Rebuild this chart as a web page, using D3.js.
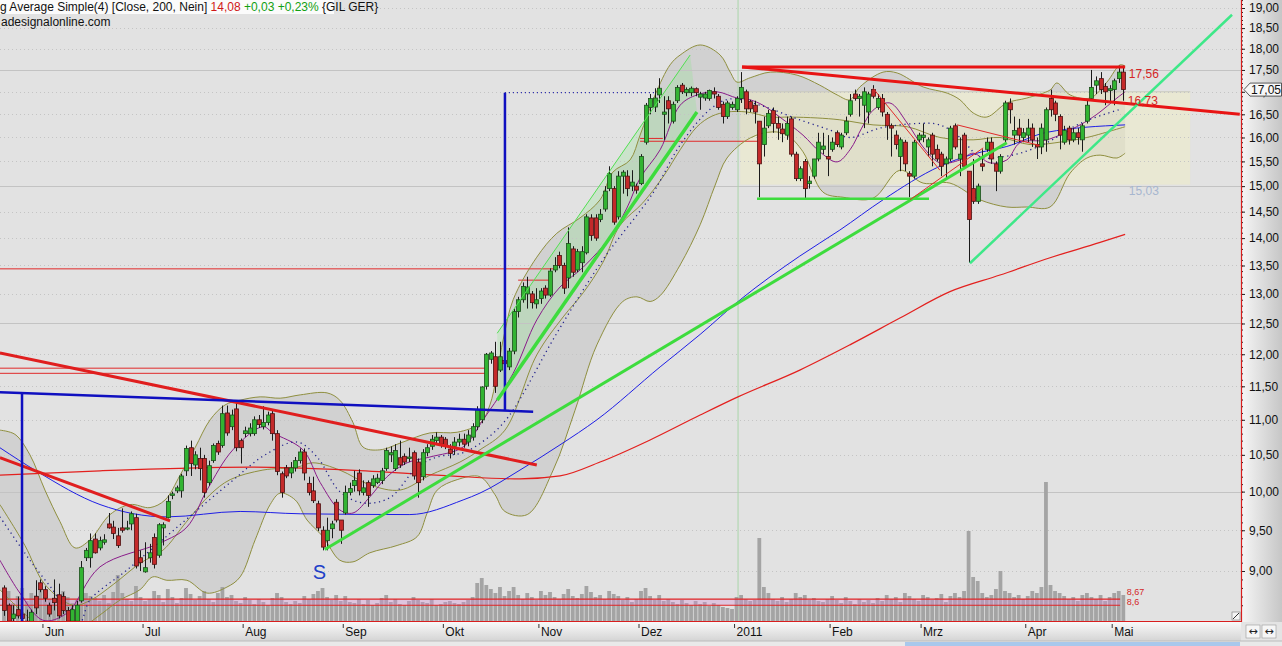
<!DOCTYPE html>
<html><head><meta charset="utf-8">
<script src="https://cdn.jsdelivr.net/npm/d3@7"></script>
<style>
html,body{margin:0;padding:0;background:#e2e2e2;overflow:hidden}
svg{display:block;font-family:"Liberation Sans",Arial,sans-serif}
</style></head><body>
<svg id="c" width="1282" height="646"></svg>
<script>
// ---------- DATA ----------
const monthLabels = ["Jun","Jul","Aug","Sep","Okt","Nov","Dez","2011","Feb","Mrz","Apr","Mai"];
const monthStart  = [9,31,53,75,97,118,140,161,182,202,225,244]; // trading-day index of first day of month

const open = [8.80,8.60,8.45,8.55,8.50,8.42,8.40,8.70,8.86,8.78, 8.60,8.68,8.72,8.70,8.54,8.42,8.42,8.65,9.16,9.16,
9.39,9.28,9.35,9.58,9.54,9.43,9.53,9.52,9.58,9.66, 9.16,8.99,9.16,9.41,9.19,9.53,9.66,9.95,10.01,10.01,
10.28,10.60,10.36,10.45,10.45,10.12,10.42,10.66,10.63,11.10, 10.90,11.16,10.70,10.80,10.80,10.80,11.00,10.90,10.96,11.09,
10.80,10.24,10.32,10.25,10.32,10.42,10.54,10.11,10.01,9.84, 9.50,9.37,9.52,9.86,9.63,9.72,9.99,10.08,10.25,9.99,
10.12,10.08,10.12,10.15,10.31,10.50,10.31,10.46,10.48,10.45, 10.53,10.40,10.20,10.53,10.62,10.70,10.75,10.72,10.58,10.62,
10.68,10.72,10.68,10.75,10.90,11.00,11.50,11.92,11.96,11.75, 11.90,11.80,12.05,12.70,12.90,13.00,13.00,12.83,12.92,13.10,
12.98,13.42,13.68,13.50,13.28,13.80,13.42,13.55,13.73,14.38, 14.38,14.35,14.55,14.95,14.95,14.40,15.20,15.20,15.00,15.00,
15.05,15.90,16.65,16.66,16.93,16.50,16.80,16.35,16.80,17.15, 16.98,16.98,17.07,16.88,16.86,16.85,17.00,16.90,16.72,16.45,
16.65,16.60,16.85,17.00,16.78,16.70,16.35,15.85,16.25,16.58, 16.30,16.18,16.05,16.40,15.65,15.15,15.50,15.05,15.20,15.55,
15.75,15.60,15.75,16.10,15.80,16.10,16.50,16.95,16.85,16.70, 16.55,17.05,16.65,16.85,16.50,16.25,16.05,15.60,15.90,15.25,
15.20,15.95,16.00,15.80,16.05,15.75,15.65,15.45,15.55,16.25, 15.55,16.05,15.30,14.95,14.70,15.45,15.75,15.90,15.45,15.30,
15.95,16.75,16.05,16.20,16.00,16.05,16.20,15.85,15.80,15.95, 16.85,16.75,16.45,15.90,16.20,15.95,16.10,15.95,16.35,16.85,
17.15,17.30,17.12,17.03,17.05,17.30,17.45];

const high = [8.83,8.62,8.60,8.70,8.62,8.55,8.55,8.89,8.90,8.82, 8.63,8.90,8.85,8.75,8.58,8.60,8.65,9.12,9.28,9.46,
9.46,9.42,9.45,9.72,9.62,9.53,9.78,9.62,9.74,9.71, 9.25,9.35,9.33,9.46,9.59,9.60,9.95,10.00,10.08,10.24,
10.63,10.70,10.55,10.60,10.50,10.42,10.66,10.70,11.21,11.21, 11.15,11.25,10.73,10.90,10.95,11.05,11.07,11.20,11.12,11.15,
10.85,10.27,10.36,10.40,10.47,10.59,10.59,10.20,10.20,9.88, 9.55,9.66,9.62,9.90,9.63,10.08,10.12,10.28,10.30,10.15,
10.15,10.22,10.24,10.32,10.60,10.62,10.65,10.70,10.52,10.60, 10.56,10.45,10.58,10.65,10.78,10.82,10.78,10.75,10.65,10.75,
10.80,10.80,10.85,10.95,11.20,11.50,12.02,12.05,12.20,12.20, 12.10,12.10,12.75,12.95,13.20,13.30,13.05,13.10,13.10,13.15,
13.45,13.65,13.75,13.55,14.20,13.85,13.80,13.85,14.45,14.45, 14.45,14.55,15.00,15.40,15.00,15.30,15.32,15.32,15.32,15.05,
15.65,16.75,16.95,17.08,17.31,16.90,16.90,16.78,17.15,17.20, 17.10,17.12,17.10,17.00,17.00,17.05,17.10,16.95,16.78,16.80,
16.78,16.90,17.45,17.05,16.82,16.80,16.35,16.45,16.60,16.65, 16.45,16.30,16.45,16.45,15.70,15.40,15.55,15.20,15.55,16.10,
16.10,16.05,16.00,16.15,16.10,16.45,16.95,17.05,16.95,17.10, 17.00,17.15,16.95,16.95,16.55,16.30,16.15,16.00,15.95,15.30,
15.95,16.10,16.30,16.00,16.10,15.85,15.70,15.60,16.25,16.30, 16.00,16.10,15.30,15.55,15.05,15.75,16.00,16.00,15.50,15.65,
16.80,16.85,16.45,16.40,16.20,16.40,16.30,16.00,16.30,16.65, 17.05,16.80,16.50,16.25,16.25,16.20,16.20,16.30,16.80,17.50,
17.35,17.45,17.20,17.15,17.30,17.60,17.60];

const low = [8.48,8.38,8.35,8.45,8.40,8.35,8.38,8.50,8.75,8.64, 8.47,8.54,8.45,8.50,8.38,8.38,8.40,8.63,9.12,9.04,
9.21,9.25,9.32,9.52,9.39,9.28,9.47,9.50,9.50,9.03, 9.00,8.98,9.10,9.03,9.16,9.31,9.65,9.90,9.98,9.92,
10.21,10.21,10.30,10.15,9.92,10.08,10.39,10.50,10.60,10.77, 10.85,10.55,10.38,10.75,10.76,10.77,10.88,10.86,10.92,10.70,
10.22,9.92,10.18,10.18,10.27,10.38,10.15,9.95,9.85,9.49, 9.25,9.25,9.40,9.60,9.33,9.70,9.95,10.00,9.95,9.95,
9.80,10.05,10.10,10.10,10.28,10.40,10.28,10.32,10.36,10.40, 10.16,9.92,10.15,10.48,10.57,10.65,10.60,10.58,10.45,10.50,
10.62,10.60,10.62,10.70,10.85,10.95,11.45,11.85,11.40,11.72, 11.70,11.75,12.00,12.60,12.85,12.75,12.75,12.75,12.83,12.92,
12.95,13.38,13.45,13.00,13.10,13.30,13.38,13.38,13.70,13.95, 13.95,14.30,14.50,14.90,14.25,14.35,14.85,14.80,14.90,14.85,
15.02,15.85,16.50,16.55,16.75,15.95,16.30,16.30,16.75,16.95, 16.90,16.90,16.90,16.60,16.80,16.80,16.85,16.60,16.30,16.40,
16.60,16.55,16.75,16.50,16.55,16.30,14.78,15.60,16.20,16.10, 15.95,15.90,15.95,15.60,15.10,15.10,14.75,14.95,15.15,15.50,
15.65,15.20,15.70,15.80,15.75,16.05,16.45,16.80,16.45,16.20, 16.30,16.85,16.60,16.45,15.95,15.60,15.75,15.30,15.30,14.78,
15.15,15.90,15.90,15.60,15.40,15.50,15.20,15.15,15.50,15.75, 15.20,15.35,13.55,14.65,14.65,15.30,15.70,15.45,14.90,15.25,
15.90,16.30,15.85,15.90,15.90,15.90,15.80,15.55,15.65,15.70, 16.45,16.35,15.75,15.85,15.85,15.90,15.85,15.70,16.30,16.80,
16.95,16.95,16.70,16.75,16.70,17.20,16.80];

const close = [8.54,8.42,8.50,8.48,8.45,8.40,8.52,8.57,8.78,8.68, 8.50,8.63,8.48,8.54,8.42,8.55,8.60,9.04,9.25,9.37,
9.22,9.37,9.38,9.53,9.46,9.31,9.50,9.53,9.71,9.06, 9.10,9.04,9.22,9.08,9.57,9.57,9.87,9.97,10.05,10.21,
10.59,10.38,10.50,10.31,9.99,10.35,10.63,10.54,11.09,10.81, 11.07,10.60,10.60,10.84,10.88,11.00,10.93,10.96,11.07,10.80,
10.27,9.99,10.21,10.32,10.42,10.54,10.25,9.99,9.88,9.53, 9.29,9.50,9.58,9.63,9.50,9.99,10.04,10.15,10.01,10.05,
9.95,10.17,10.18,10.28,10.56,10.53,10.56,10.36,10.40,10.47, 10.21,10.12,10.53,10.60,10.72,10.75,10.65,10.62,10.52,10.68,
10.72,10.65,10.78,10.90,11.15,11.49,12.00,12.02,11.50,11.96, 11.85,12.05,12.70,12.90,13.13,13.12,12.85,12.90,13.05,12.98,
13.40,13.50,13.50,13.10,13.90,13.38,13.75,13.75,14.40,14.05, 14.00,14.45,14.90,15.25,14.30,15.20,15.28,14.95,15.08,14.92,
15.60,16.70,16.85,16.86,17.08,16.55,16.62,16.72,17.10,17.00, 17.05,17.08,16.98,16.95,16.95,17.03,16.95,16.65,16.45,16.75,
16.72,16.85,17.10,16.62,16.62,16.55,15.45,16.20,16.52,16.30, 16.20,16.08,16.30,15.65,15.15,15.35,14.95,15.10,15.55,15.90,
15.82,15.55,15.90,15.85,16.05,16.35,16.80,16.85,16.90,17.00, 16.95,16.90,16.85,16.55,16.25,16.20,15.85,15.95,15.45,15.20,
15.90,16.05,16.05,15.95,15.65,15.55,15.40,15.55,16.20,15.80, 15.65,15.40,14.35,14.70,15.00,15.40,15.90,15.55,15.30,15.60,
16.75,16.60,16.15,16.05,16.10,16.20,15.95,15.80,16.20,16.60, 16.60,16.50,16.05,16.15,15.95,16.10,16.00,16.25,16.70,17.10,
17.25,17.05,17.00,17.07,17.25,17.45,17.05];

const volume = [22,30,18,25,33,20,28,26,35,24, 22,19,27,30,24,18,21,36,28,25,
23,20,26,18,29,46,28,22,20,35, 24,20,22,30,26,19,32,24,18,23,
33,27,21,25,30,22,19,28,34,24, 26,20,18,24,21,17,22,19,16,23,
28,24,19,17,20,18,25,22,27,30, 33,24,21,26,20,25,19,18,22,17,
21,16,18,23,26,19,22,17,16,20, 24,21,19,18,22,16,17,19,20,18,
17,19,21,24,38,43,36,32,28,34, 25,30,34,26,22,28,24,21,30,26,
29,24,22,27,32,25,23,27,35,29, 24,26,22,30,27,25,21,24,19,22,
30,33,25,21,26,20,22,19,17,21, 18,16,20,17,19,15,18,16,14,13,
12,24,26,22,20,21,83,34,28,22, 20,24,19,22,28,24,26,21,23,20,
19,22,25,21,18,24,20,17,22,19, 21,18,23,20,26,22,24,19,28,25,
22,20,26,24,21,23,27,19,25,28, 24,30,90,44,40,28,24,26,32,50,
30,28,24,26,22,25,30,28,34,139, 36,30,28,25,22,24,20,26,28,24,
22,26,20,24,28,30,26];

// price-axis tick labels
const yTicks = [9,9.5,10,10.5,11,11.5,12,12.5,13,13.5,14,14.5,15,15.5,16,16.5,17,17.5,18,18.5,19];
const yGridMajor = [10,12.5,15,17.5];

// indicator lines: [trading-day index, price]
const ma200 = [[-0.9,10.22],[21.1,10.28],[54.1,10.33],[76,10.29],[98,10.21],[113.4,10.17],[122.2,10.21],[131,10.40],[142,10.71],[153,11.07],[161.3,11.34],[174.9,11.75],[185.9,12.15],[196.9,12.59],[207.9,13.04],[218.9,13.33],[229.9,13.64],[240.9,13.92],[246.4,14.07]];
const ma50 = [[-0.9,10.60],[7.3,10.27],[21.1,9.83],[35.8,9.67],[51.9,9.74],[65.1,9.71],[89.2,9.70],[100.9,9.89],[104.6,9.98],[113.4,10.29],[122.2,10.64],[130.3,11.0],[144.2,11.80],[153,12.32],[161.8,12.90],[174.9,13.67],[183.7,14.15],[193.2,14.73],[205.7,15.40],[213,15.65],[220.4,15.81],[229.2,16.11],[246.4,16.27]];
const maDotted = [[-0.9,9.67],[5.7,9.13],[12.3,8.66],[14.9,8.42],[16.7,8.40],[18.9,8.66],[27,9.01],[38.7,9.57],[49.7,10.12],[57.4,10.50],[64.4,10.68],[68.8,10.47],[73.8,10.0],[78.9,9.85],[84.8,9.92],[90.8,10.33],[95.2,10.47],[100.9,10.53],[105.7,10.71],[110.8,11.04],[121.5,12.34],[131.6,13.60],[142.6,14.86],[148.6,15.84],[155.2,16.61],[159.6,16.84],[166.8,16.68],[174.3,16.40],[181.5,16.16],[185.9,16.0],[192.5,16.2],[200.7,16.30],[205.7,16.27],[210.1,16.0],[214.5,15.59],[218.9,15.59],[223.3,15.67],[229.2,15.89],[236.5,16.3],[245.3,16.61]];
const maShort = [[-0.9,9.13],[3.5,8.74],[8.6,8.43],[13.8,8.51],[21.1,9.05],[34.3,9.34],[40.2,9.54],[44.6,10.02],[50.3,10.57],[56.9,10.90],[59.1,10.81],[65.7,10.57],[69.5,10.12],[73.8,9.76],[76.7,9.72],[80.4,9.93],[84.2,10.20],[88.6,10.39],[93.6,10.47],[100.9,10.61],[105.3,11.0],[111.9,11.70],[117.1,12.56],[122.2,13.12],[127.3,13.47],[133.2,14.02],[136.9,14.57],[139.8,15.16],[144.2,15.74],[148.6,16.70],[152.3,16.93],[156.7,17.0],[161.1,16.86],[164,16.82],[166.8,16.70],[170.5,16.44],[175.6,16.05],[179.3,15.70],[183.1,15.49],[186,15.75],[188.5,16.2],[191,16.59],[194.7,16.75],[198.5,16.31],[202,15.80],[205.7,15.47],[210.1,15.53],[213,15.67],[216.7,15.47],[220.4,15.53],[223.3,15.89],[229.2,15.95],[236.5,16.27],[240.2,16.50],[244.6,16.86],[246.4,17.0]];
const bbUpper = [[-0.9,10.85],[2.4,10.79],[5.7,10.50],[9,10.02],[12.3,9.61],[15.6,9.28],[18.9,9.38],[23.3,9.70],[27.7,9.83],[32.1,9.79],[35.4,9.89],[38.7,10.22],[42,10.60],[45.3,11.0],[48.6,11.22],[51.9,11.29],[56.3,11.34],[60.7,11.32],[65.1,11.37],[71,11.40],[73.8,11.29],[76.7,10.96],[78.9,10.61],[82.6,10.57],[87.7,10.68],[93.6,10.81],[99.6,10.82],[104.6,10.95],[106.8,11.22],[109.7,12.23],[111.9,12.90],[117.1,13.65],[121.5,14.09],[126.6,14.38],[131,14.73],[133.8,15.28],[137.6,15.53],[139.8,16.05],[143.1,16.93],[146.4,17.62],[148.6,17.85],[153,18.09],[157.4,17.85],[159.6,17.45],[161.1,17.22],[164,17.32],[168.4,17.45],[174.3,17.38],[179.3,17.15],[183.1,16.93],[185.9,16.82],[188.1,17.11],[193.2,17.45],[196.3,17.43],[202,17.11],[207.3,16.97],[210.1,16.82],[213,16.53],[216,16.44],[220.4,16.75],[224.8,16.86],[229.9,17.04],[231.4,17.20],[234.3,16.93],[238.7,16.86],[242.4,17.22],[245.3,17.62],[246.4,17.59]];
const bbMiddle = [[-0.9,9.83],[4.6,9.31],[9,8.84],[15.2,8.60],[19.1,8.66],[24,8.84],[30.1,9.10],[34.9,9.25],[40,9.60],[45.3,9.96],[49.7,10.16],[56.9,10.29],[64.4,10.33],[67.9,10.39],[73.8,10.29],[80.4,10.09],[87,10.02],[93.6,10.22],[100.2,10.40],[104.6,10.57],[110.1,10.85],[117.1,11.99],[122.9,12.61],[127.3,13.02],[131.6,13.55],[135.4,14.24],[140.4,14.67],[145.1,15.22],[148.6,15.74],[152.3,16.23],[155.6,16.46],[158.9,16.55],[163.3,16.55],[168.4,16.44],[172.7,16.44],[178.7,16.42],[183.7,16.38],[191,16.27],[198.5,16.23],[205.7,16.0],[213,15.95],[218.9,16.0],[225.5,15.85],[232.7,15.91],[238,16.0],[241.5,16.09],[246.4,16.23]];
const bbLower = [[-0.9,8.78],[3.5,8.55],[7.9,8.37],[12.3,8.30],[16.7,8.34],[21.1,8.49],[25.5,8.66],[29.9,8.78],[32.7,8.93],[35.8,8.89],[40.2,8.89],[44.6,8.74],[49,8.81],[51.9,8.93],[55.2,9.38],[58.5,9.83],[60.7,9.98],[64,9.89],[66.6,9.63],[70.1,9.42],[73.8,9.13],[76.7,9.11],[80.4,9.22],[86.4,9.31],[90.8,9.42],[93,9.72],[95.2,10.02],[99.6,10.16],[104.6,10.20],[107.9,9.96],[110.1,9.74],[115,9.70],[120.7,10.29],[125.5,11.14],[130.3,12.15],[136,12.87],[139.1,12.95],[142,12.87],[144.2,12.97],[148.6,13.51],[153,14.25],[156.3,15.02],[158.9,15.57],[164,15.99],[169,16.12],[172.1,16.05],[175.6,15.70],[180,14.88],[184.4,14.78],[191,14.76],[196.9,15.32],[202,15.06],[207.9,15.06],[214.5,14.73],[220.4,14.59],[224.8,14.59],[229.9,14.59],[234.3,15.26],[238,15.57],[240.9,15.63],[244.6,15.57],[246.4,15.67]];

// drawn trend lines: [index, price] end points
const redTrendA = [[-0.9,12.02],[117.1,10.36]];
const redTrendB = [[-0.9,10.46],[36.5,9.62]];
const blueLevel = [[-0.9,11.41],[116.3,11.12]];
const blueVertLeft = [[3.96,11.41],[3.96,8.2]];
const blueVertRight = [[110.1,16.98],[110.1,11.14]];
const blueTarget = [[110.1,16.98],[143.1,16.98]];
const greenLong = [[70.5,9.26],[220.4,15.89]];
const greenChannelLow = [[108.4,11.29],[152.3,16.55]];
const greenChannelHigh = [[108.4,12.34],[150.8,17.85]];
const redTop = [[162.2,17.57],[246.4,17.57]];
const redFalling = [[162.2,17.57],[271.6,16.50]];
const greenSupport = [[165.5,14.75],[203.3,14.75]];
const springLine = [[212.3,13.54],[269.9,18.83]];
const thinRed1 = [[191,17.08],[205.7,15.32]];
const thinRed2 = [[199.1,14.73],[215.2,15.78]];
const thinRed3 = [[209.5,16.27],[227.7,15.83]];
// horizontal price levels
const levelPrice = [13.44,11.78,11.70,13.24,15.92,15.98];
const levelFrom  = [-0.9,-0.9,-0.9,113,139.8,139.8];
const levelTo    = [121.5,105.7,105.7,120,166.2,144.8];
const volLevels = [8.67,8.60];
const volLevelEnd = 245.3;
// shaded zone [fromIndex, toIndex, lowPrice, highPrice]
const zone = [161.8,260.7,15.03,17.0];
const lastPrice = 17.05;

// ---------- CHART ----------
const svg = d3.select('#c');
const PR = 1241, PB = 621;
const x = d3.scaleLinear().domain([0,246]).range([4,1123.3]);
const y = d3.scaleLog().domain([9,19]).range([571,8]);
const vy = d3.scaleLinear().domain([0,140]).range([PB,PB-140]);
const fmt = v => d3.format('.2f')(v).replace('.',',');

const defs = svg.append('defs');
defs.append('clipPath').attr('id','plot').append('rect').attr('x',0).attr('y',0).attr('width',PR).attr('height',PB);
const ga = defs.append('linearGradient').attr('id','gax').attr('x1',0).attr('x2',1).attr('y1',0).attr('y2',0);
ga.append('stop').attr('offset','0%').attr('stop-color','#f6f6f6');
ga.append('stop').attr('offset','100%').attr('stop-color','#c6c6c6');
const gb = defs.append('linearGradient').attr('id','gbx').attr('x1',0).attr('x2',0).attr('y1',0).attr('y2',1);
gb.append('stop').attr('offset','0%').attr('stop-color','#fbfbfb');
gb.append('stop').attr('offset','100%').attr('stop-color','#d4d4d4');

const g = svg.append('g').attr('clip-path','url(#plot)');
g.append('rect').attr('x',0).attr('y',0).attr('width',PR).attr('height',PB).attr('fill','#e2e2e2');

const lin = d3.line().x(d=>x(d[0])).y(d=>y(d[1]));
const smooth = d3.line().x(d=>x(d[0])).y(d=>y(d[1])).curve(d3.curveMonotoneX);
const cr = d3.line().x(d=>x(d[0])).y(d=>y(d[1])).curve(d3.curveCatmullRom.alpha(0.5));

// Bollinger fill
g.append('path').attr('d', cr(bbUpper) + 'L' + cr(bbLower.slice().reverse()).slice(1) + 'Z')
  .attr('fill','#d1d1d1');

// zone
g.append('rect').attr('x',x(zone[0])).attr('width',x(zone[1])-x(zone[0]))
  .attr('y',y(zone[3])).attr('height',y(zone[2])-y(zone[3]))
  .attr('fill','#efeec4').attr('opacity',0.5);
g.append('line').attr('x1',x(zone[0])).attr('x2',x(zone[1])).attr('y1',y(zone[3])).attr('y2',y(zone[3]))
  .attr('stroke','#c9c9bd').attr('stroke-width',1);

// green channel fill
g.append('path').attr('d', lin([greenChannelHigh[0],greenChannelHigh[1],greenChannelLow[1],greenChannelLow[0]])+'Z')
  .attr('fill','#7de87d').attr('opacity',0.22);

// grid
yTicks.filter(v=>!yGridMajor.includes(v)).forEach(v=>{
  g.append('line').attr('x1',0).attr('x2',PR).attr('y1',Math.round(y(v))+0.5).attr('y2',Math.round(y(v))+0.5)
   .attr('stroke','#c4c4c4').attr('stroke-dasharray','1,3');
});
yGridMajor.forEach(v=>{
  g.append('line').attr('x1',0).attr('x2',PR).attr('y1',Math.round(y(v))+0.5).attr('y2',Math.round(y(v))+0.5)
   .attr('stroke','#c3c3c3').attr('stroke-width',1);
});
// year separator
g.append('line').attr('x1',x(161)+1.5).attr('x2',x(161)+1.5).attr('y1',0).attr('y2',PB)
  .attr('stroke','#a9d6a9').attr('stroke-width',1);

// volume
g.append('g').selectAll('rect').data(volume).join('rect')
  .attr('x',(d,i)=>x(i)-1.9).attr('width',3.8)
  .attr('y',d=>vy(d)).attr('height',d=>PB-vy(d))
  .attr('fill','#a4a4a4');

// volume-level band
g.append('rect').attr('x',0).attr('width',x(volLevelEnd))
  .attr('y',y(volLevels[0])).attr('height',y(volLevels[1])-y(volLevels[0]))
  .attr('fill','#d890d8').attr('opacity',0.35);
volLevels.forEach(p=>{
  g.append('path').attr('d',lin([[-0.9,p],[volLevelEnd,p]])).attr('stroke','#e02424').attr('stroke-width',1.2).attr('fill','none');
});
// horizontal levels
levelPrice.forEach((p,k)=>{
  g.append('path').attr('d',lin([[levelFrom[k],p],[levelTo[k],p]])).attr('stroke','#e02a2a').attr('stroke-width',1).attr('fill','none');
});

// bands
[bbUpper,bbMiddle,bbLower].forEach(a=>{
  g.append('path').attr('d',cr(a)).attr('fill','none').attr('stroke','#8f8f3f').attr('stroke-width',1);
});
// moving averages
g.append('path').attr('d',smooth(ma200)).attr('fill','none').attr('stroke','#e3201e').attr('stroke-width',1.2);
g.append('path').attr('d',smooth(ma50)).attr('fill','none').attr('stroke','#1e1ee6').attr('stroke-width',1);
g.append('path').attr('d',cr(maShort)).attr('fill','none').attr('stroke','#8a1c8a').attr('stroke-width',1);
g.append('path').attr('d',cr(maDotted)).attr('fill','none').attr('stroke','#20208c').attr('stroke-width',1.3).attr('stroke-dasharray','1.2,3.6');

// candles
const cg = g.append('g');
const idx = d3.range(open.length);
cg.selectAll('line').data(idx).join('line')
  .attr('x1',i=>Math.round(x(i))+0.5).attr('x2',i=>Math.round(x(i))+0.5)
  .attr('y1',i=>y(high[i])).attr('y2',i=>y(low[i]))
  .attr('stroke','#1a1a1a').attr('stroke-width',1);
cg.selectAll('rect').data(idx).join('rect')
  .attr('x',i=>Math.round(x(i))-1.5).attr('width',4)
  .attr('y',i=>y(Math.max(open[i],close[i])))
  .attr('height',i=>Math.max(1.2,y(Math.min(open[i],close[i]))-y(Math.max(open[i],close[i]))))
  .attr('fill',i=>close[i]>=open[i]?'#32b432':'#c42a2a')
  .attr('stroke',i=>close[i]>=open[i]?'#1d4f1d':'#4d1212').attr('stroke-width',0.8);

// trend lines
function seg(a,color,w,dash){
  const p = g.append('path').attr('d',lin(a)).attr('fill','none').attr('stroke',color).attr('stroke-width',w).attr('stroke-linecap','butt');
  if(dash) p.attr('stroke-dasharray',dash);
}
seg(greenChannelHigh,'#52e052',1);
seg(redTrendA,'#e01e1e',3);
seg(redTrendB,'#e01e1e',3);
seg(blueLevel,'#1010c0',2.5);
seg(blueVertLeft,'#1010c0',2.5);
seg(blueVertRight,'#1010c0',2.5);
seg(blueTarget,'#2a2ab0',1.2,'1,3');
seg(greenLong,'#3ddc3d',3);
seg(greenChannelLow,'#3ddc3d',3.5);
seg(redTop,'#e81414',3);
seg(redFalling,'#e81414',3);
seg(greenSupport,'#3ddc3d',2.5);
seg(springLine,'#3ee888',2.5);
seg(thinRed1,'#e02a2a',1);
seg(thinRed2,'#e02a2a',1);
seg(thinRed3,'#e02a2a',1);

// value labels
const lx = x(247)+1;
g.append('text').attr('x',lx).attr('y',y(redTop[1][1])+11).text(fmt(17.56)).attr('fill','#d42626').attr('font-size',12);
g.append('text').attr('x',lx-1).attr('y',y(16.73)+1).text(fmt(16.73)).attr('fill','#d42626').attr('font-size',12);
g.append('text').attr('x',lx).attr('y',y(zone[2])+10).text(fmt(zone[2])).attr('fill','#a7b6cf').attr('font-size',12);
g.append('text').attr('x',lx-2).attr('y',y(volLevels[0])-4).text(fmt(volLevels[0])).attr('fill','#d42626').attr('font-size',9);
g.append('text').attr('x',lx-2).attr('y',y(volLevels[1])-0.5).text('8,6').attr('fill','#d42626').attr('font-size',9);
g.append('text').attr('x',x(70.5)-12).attr('y',y(9.25)+29).text('S').attr('fill','#2140c8').attr('font-size',20);

// resize icon
svg.append('rect').attr('x',1232).attr('y',612).attr('width',8).attr('height',8).attr('fill','#f4f4f4').attr('stroke','#777').attr('stroke-width',0.6);
svg.append('line').attr('x1',1233).attr('y1',619).attr('x2',1239).attr('y2',613).attr('stroke','#333');

// right axis
svg.append('rect').attr('x',PR).attr('y',0).attr('width',1282-PR).attr('height',622).attr('fill','url(#gax)');
const minorTicks = d3.range(86,193).map(v=>v/10);
svg.append('g').attr('transform',`translate(${PR},0)`)
  .call(d3.axisRight(y).tickValues(minorTicks).tickSize(2).tickFormat(''))
  .call(a=>a.select('.domain').remove())
  .call(a=>a.selectAll('line').attr('stroke','#222'));
svg.append('g').attr('transform',`translate(${PR},0)`)
  .call(d3.axisRight(y).tickValues(yTicks).tickSize(4).tickPadding(4).tickFormat(fmt))
  .call(a=>a.select('.domain').remove())
  .call(a=>a.selectAll('line').attr('stroke','#222'))
  .call(a=>a.selectAll('text').attr('font-size',12).attr('fill','#111').attr('font-family','"Liberation Sans",Arial,sans-serif'));
// last price marker
const yc = y(lastPrice);
svg.append('polygon').attr('points',`${PR+3},${yc} ${PR+9},${yc-6.5} 1281.5,${yc-6.5} 1281.5,${yc+6.5} ${PR+9},${yc+6.5}`)
  .attr('fill','#f7f7f7').attr('stroke','#333').attr('stroke-width',0.8);
svg.append('text').attr('x',PR+10).attr('y',yc+4.5).text(fmt(lastPrice)).attr('font-size',12).attr('fill','#111');

// bottom axis
svg.append('rect').attr('x',0).attr('y',PB).attr('width',PR).attr('height',20).attr('fill','url(#gbx)');
svg.append('rect').attr('x',PR).attr('y',622).attr('width',1282-PR).attr('height',24).attr('fill','#e4e4e4');
svg.append('g').attr('transform',`translate(0,${PB})`)
  .call(d3.axisBottom(x).tickValues(monthStart).tickSize(4).tickFormat((d,i)=>monthLabels[i]))
  .call(a=>a.select('.domain').remove())
  .call(a=>a.selectAll('.tick').attr('transform',d=>`translate(${x(d)-2},0)`))
  .call(a=>a.selectAll('line').attr('stroke','#333').attr('y1',3).attr('y2',7))
  .call(a=>a.selectAll('text').attr('text-anchor','start').attr('x',2).attr('y',6).attr('font-size',12).attr('fill','#111').attr('font-family','"Liberation Sans",Arial,sans-serif'));
svg.append('rect').attr('x',0).attr('y',641).attr('width',1282).attr('height',5).attr('fill','#e9e9e9');
svg.append('rect').attr('x',905).attr('y',642).attr('width',335).attr('height',4).attr('fill','#a9c8ec');
svg.append('line').attr('x1',0).attr('x2',1282).attr('y1',641).attr('y2',641).attr('stroke','#bcbcbc');
// scroll icons
[1246,1262].forEach(px=>{
  svg.append('rect').attr('x',px).attr('y',625).attr('width',14).attr('height',13).attr('fill','#f6f6f6').attr('stroke','#999').attr('stroke-width',0.6);
  svg.append('text').attr('x',px+7).attr('y',635).attr('text-anchor','middle').attr('font-size',11)
    .attr('font-family','"DejaVu Sans",sans-serif').attr('fill','#222').text('\u2194');
});

// borders
svg.append('line').attr('x1',PR+0.5).attr('x2',PR+0.5).attr('y1',0).attr('y2',PB+1).attr('stroke','#d81e1e').attr('stroke-width',1.2);
svg.append('line').attr('x1',0).attr('x2',PR+1).attr('y1',PB+0.5).attr('y2',PB+0.5).attr('stroke','#d81e1e').attr('stroke-width',1.2);

// header
svg.append('rect').attr('x',0).attr('y',0).attr('width',334).attr('height',14).attr('fill','#fbfbfb');
const ht = svg.append('text').attr('x',0).attr('y',11).attr('font-size',12).attr('fill','#111');
ht.append('tspan').text('g Average Simple(4) [Close, 200, Nein] ');
ht.append('tspan').attr('fill','#d01818').text('14,08 ');
ht.append('tspan').attr('fill','#12a012').text('+0,03 +0,23% ');
ht.append('tspan').text('{GIL GER}');
svg.append('text').attr('x',1).attr('y',26).attr('font-size',12).attr('fill','#111').text('adesignalonline.com');
</script>
</body></html>
